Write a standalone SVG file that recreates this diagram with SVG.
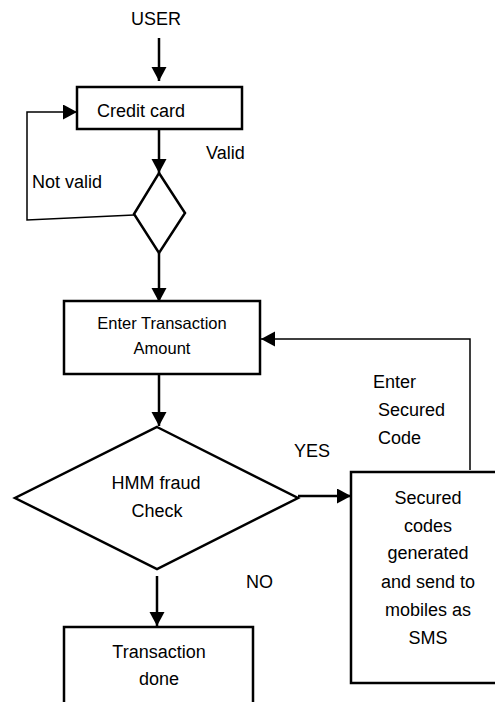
<svg xmlns="http://www.w3.org/2000/svg" width="495" height="702" viewBox="0 0 495 702">
<defs>
<marker id="ah" markerUnits="userSpaceOnUse" markerWidth="16" markerHeight="16" refX="14" refY="7.5" orient="auto">
<path d="M0,0 L14,7.5 L0,15 Z" fill="#000"/>
</marker>
<style>
.box{fill:#fff;stroke:#000;stroke-width:2.5}
.t{font-family:"Liberation Sans",Arial,sans-serif;font-size:18px;fill:#000}
.ts{font-family:"Liberation Sans",Arial,sans-serif;font-size:16.5px;fill:#000}
.m{text-anchor:middle}
.c{fill:none;stroke:#000;stroke-width:2.5}
.cl{fill:none;stroke:#000;stroke-width:1.5}
</style>
</defs>
<rect width="495" height="702" fill="#fff"/>
<g id="connectors">
<line class="c" x1="159" y1="38" x2="159" y2="81" marker-end="url(#ah)"/>
<line class="c" x1="159" y1="129" x2="159" y2="173" marker-end="url(#ah)"/>
<polyline class="cl" points="134,215 27,220 27,112 77,112" marker-end="url(#ah)"/>
<line class="c" x1="159" y1="253" x2="159" y2="302" marker-end="url(#ah)"/>
<line class="c" x1="159" y1="374" x2="159" y2="426" marker-end="url(#ah)"/>
<line class="c" x1="298" y1="496" x2="351" y2="496" marker-end="url(#ah)"/>
<polyline class="cl" points="470,470 470,339 261,339" marker-end="url(#ah)"/>
<line class="c" x1="157" y1="576" x2="157" y2="626" marker-end="url(#ah)"/>
</g>
<g id="user"><text class="t m" x="156" y="25">USER</text></g>
<g id="credit-card">
<rect class="box" x="77" y="87" width="165" height="42"/>
<text class="t" x="97" y="117">Credit card</text>
</g>
<g id="valid-check">
<polygon class="box" points="159,173 185,213 159,253 134,214"/>
</g>
<g id="labels">
<text class="t" x="206" y="159">Valid</text>
<text class="t" x="32" y="188">Not valid</text>
<text class="t" x="373" y="388">Enter</text>
<text class="t" x="378" y="416">Secured</text>
<text class="t" x="378" y="444">Code</text>
<text class="t" x="294" y="457">YES</text>
<text class="t" x="246" y="588">NO</text>
</g>
<g id="enter-amount">
<rect class="box" x="64" y="301" width="196" height="73"/>
<text class="ts m" x="162" y="329">Enter Transaction</text>
<text class="ts m" x="162" y="354">Amount</text>
</g>
<g id="hmm-check">
<polygon class="box" points="157,427 298,498 157,569 15,498"/>
<text class="t m" x="156" y="489">HMM fraud</text>
<text class="t m" x="157" y="517">Check</text>
</g>
<g id="secured-codes">
<rect class="box" x="351" y="472" width="160" height="211"/>
<text class="t m" x="428" y="504">Secured</text>
<text class="t m" x="428" y="532">codes</text>
<text class="t m" x="428" y="559">generated</text>
<text class="t m" x="428" y="588">and send to</text>
<text class="t m" x="428" y="616">mobiles as</text>
<text class="t m" x="428" y="644">SMS</text>
</g>
<g id="transaction-done">
<path class="box" d="M64,712 L64,627 L253,627 L253,712"/>
<text class="t m" x="159" y="658">Transaction</text>
<text class="t m" x="159" y="685">done</text>
</g>
</svg>
